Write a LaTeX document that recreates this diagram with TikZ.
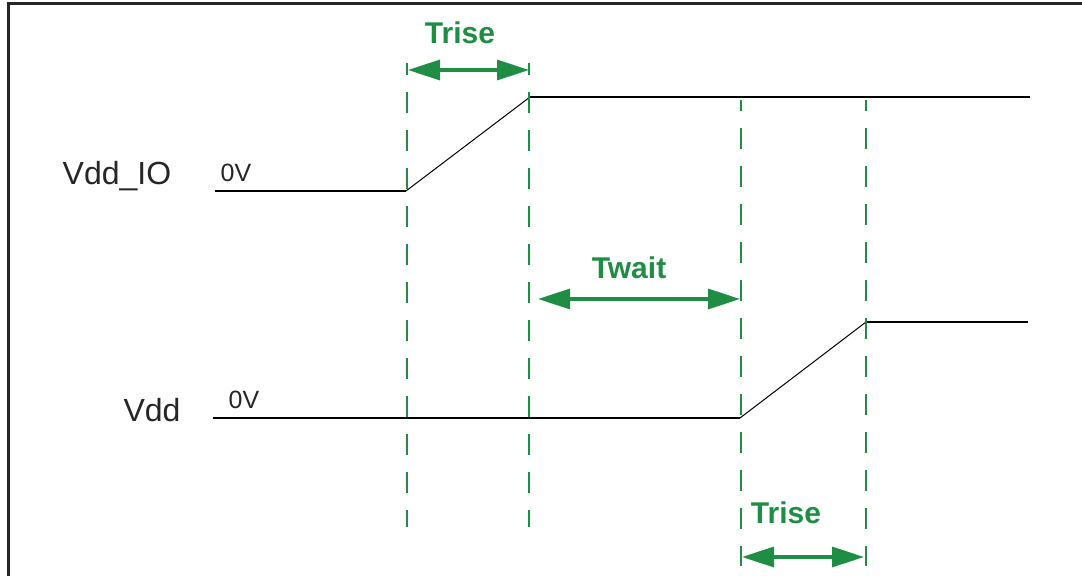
\documentclass[tikz,border=0pt]{standalone}
\usepackage{fontspec}
\setmainfont{Liberation Sans}
\usetikzlibrary{arrows.meta}
\definecolor{timegreen}{RGB}{31,142,68}
\tikzset{
    every path/.style={line width=1pt},
    wave/.style={line width=1.1pt},
    ramp/.style={line width=0.5pt},
    frame/.style={line width=1.5pt, black!85},
    guide/.style={timegreen, line width=1pt, dash pattern=on 10.5pt off 8.5pt},
    span/.style={{Triangle[length=16pt,width=10pt]}-{Triangle[length=16pt,width=10pt]}, timegreen, line width=1.6pt},
    sig/.style={font=\fontsize{16}{18}\selectfont, black!85},
    lvl/.style={font=\fontsize{12.5}{14}\selectfont, black!85},
    tlabel/.style={timegreen, font=\bfseries\fontsize{15}{17}\selectfont}
}

\begin{document}
\begin{tikzpicture}[x=0.5pt,y=-0.5pt]
\useasboundingbox (0,0) rectangle (1082,576);
\draw[frame] (8,578) -- (8,4) -- (1084,4);

% labels
\node[sig] at (117,176) (vio) {Vdd\_IO};
\node[lvl] at (236,173) (vio0) {0V};
\node[sig] at (152,410) (vdd) {Vdd};
\node[lvl] at (244,400) (vdd0) {0V};

% Vdd_IO wave
\coordinate (a0) at (215,191);
\coordinate (a1) at (406,191);
\coordinate (a2) at (530,97);
\coordinate (a3) at (1030,97);
\draw[wave] (a0) -- (a1);
\draw[ramp] (a1) -- (a2);
\draw[wave] (a2) -- (a3);

% Vdd wave
\coordinate (b0) at (213,418);
\coordinate (b1) at (740,418);
\coordinate (b2) at (866,322);
\coordinate (b3) at (1028,322);
\draw[wave] (b0) -- (b1);
\draw[ramp] (b1) -- (b2);
\draw[wave] (b2) -- (b3);

% guide lines
\draw[guide, dash phase=4.5pt] (407,63) -- (407,527);
\draw[guide, dash phase=4.5pt] (529,63) -- (529,527);
\draw[guide, dash phase=5pt] (741,100) -- (741,566);
\draw[guide, dash phase=5pt] (866,100) -- (866,566);

% timings
\node[tlabel] at (460,33) (t1) {Trise};
\coordinate (t1l) at (408,70);
\coordinate (t1r) at (529,70);
\draw[span] (t1l) -- (t1r);

\node[tlabel] at (629,268) (t2) {Twait};
\coordinate (t2l) at (538,299);
\coordinate (t2r) at (740,299);
\draw[span] (t2l) -- (t2r);

\node[tlabel] at (786,513) (t3) {Trise};
\coordinate (t3l) at (742,557);
\coordinate (t3r) at (864,557);
\draw[span] (t3l) -- (t3r);
\end{tikzpicture}
\end{document}
